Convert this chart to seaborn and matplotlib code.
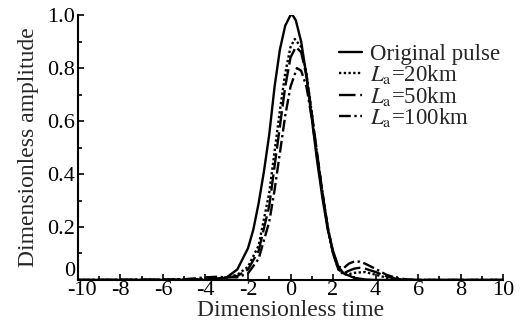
import matplotlib
matplotlib.use("Agg")
import matplotlib.pyplot as plt
import matplotlib.transforms as mtransforms
import seaborn as sns
import pandas as pd
from matplotlib.ticker import MultipleLocator

# ---- data ----
t_orig = [-10, -4, -3.5, -3, -2.5, -2, -1.75, -1.5, -1.25, -1, -0.75, -0.5, -0.25,
          0, 0.1, 0.25, 0.5, 0.75, 1, 1.25, 1.5, 1.75, 2, 2.25, 2.5, 3, 3.5, 4, 10]
a_orig = [0, 0, 0.002, 0.01, 0.04, 0.12, 0.19, 0.29, 0.41, 0.55, 0.73, 0.87, 0.96,
          1.0, 1.0, 0.98, 0.9, 0.77, 0.61, 0.45, 0.31, 0.19, 0.11, 0.05, 0.025, 0.008, 0.002, 0, 0]

t_20 = [-10, -4, -3.5, -3, -2.5, -2, -1.5, -1, -0.5, -0.25, 0, 0.2, 0.5, 0.75, 1,
        1.25, 1.5, 1.75, 2, 2.25, 2.5, 2.75, 3, 3.5, 4, 4.5, 5, 5.5, 10]
a_20 = [0, 0.002, 0.005, 0.01, 0.02, 0.05, 0.13, 0.33, 0.64, 0.78, 0.88, 0.91, 0.88, 0.78, 0.63,
        0.47, 0.33, 0.2, 0.1, 0.04, 0.02, 0.022, 0.027, 0.03, 0.02, 0.009, 0.003, 0, 0]

t_50 = [-10, -4, -3.5, -3, -2.5, -2, -1.5, -1, -0.5, -0.25, 0, 0.25, 0.5, 0.75, 1,
        1.25, 1.5, 1.75, 2, 2.25, 2.5, 2.75, 3, 3.25, 3.5, 4, 4.5, 5, 5.5, 10]
a_50 = [0, 0.002, 0.005, 0.01, 0.015, 0.04, 0.11, 0.28, 0.58, 0.73, 0.84, 0.88, 0.86, 0.77, 0.63,
        0.48, 0.33, 0.2, 0.1, 0.04, 0.025, 0.035, 0.043, 0.046, 0.043, 0.03, 0.014, 0.004, 0, 0]

t_100 = [-10, -6, -5, -4.5, -4, -3.5, -3, -2.5, -2, -1.5, -1, -0.75, -0.5, -0.25, 0, 0.3, 0.5,
         0.75, 1, 1.25, 1.5, 1.75, 2, 2.25, 2.5, 2.75, 3, 3.25, 3.5, 4, 4.5, 5, 5.5, 6, 10]
a_100 = [0, 0.001, 0.003, 0.006, 0.01, 0.012, 0.01, 0.01, 0.025, 0.08, 0.22, 0.34, 0.48, 0.62, 0.73, 0.80, 0.79,
         0.73, 0.61, 0.47, 0.33, 0.2, 0.1, 0.05, 0.045, 0.062, 0.07, 0.069, 0.062, 0.042, 0.02, 0.007, 0.002, 0, 0]

labels = ["Original pulse", r"$L_\mathrm{a}$=20km", r"$L_\mathrm{a}$=50km", r"$L_\mathrm{a}$=100km"]
x_ticks = [-10, -8, -6, -4, -2, 0, 2, 4, 6, 8, 10]
y_ticks = [0, 0.2, 0.4, 0.6, 0.8, 1.0]
y_ticklabels = ["0", "0.2", "0.4", "0.6", "0.8", "1.0"]

sns.set_style("ticks")
plt.rcParams["font.family"] = ["Liberation Serif", "DejaVu Serif"]
plt.rcParams["mathtext.fontset"] = "stix"

fig = plt.figure(figsize=(5.23, 3.29), dpi=100)
ax = fig.add_axes([0.149, 0.149, 0.813, 0.805])

series = [(t_orig, a_orig, "-"), (t_20, a_20, (0, (1, 1))),
          (t_50, a_50, (0, (7, 2))), (t_100, a_100, (0, (5, 1.5, 1, 1.5)))]
for (tt, aa, ls), lab in zip(series, labels):
    df = pd.DataFrame({"t": tt, "a": aa})
    sns.lineplot(data=df, x="t", y="a", ax=ax, color="black", linewidth=1.7,
                 linestyle=ls, label=lab)

ax.set_xlim(-10, 10)
ax.set_ylim(0, 1.0)
ax.set_xticks(x_ticks)
ax.set_xticklabels([str(v) for v in x_ticks])
ax.set_yticks(y_ticks)
ax.set_yticklabels(y_ticklabels)
ax.xaxis.set_minor_locator(MultipleLocator(1))
ax.yaxis.set_minor_locator(MultipleLocator(0.1))
ax.tick_params(which="both", direction="in", labelsize=16, width=1.2, colors="black")
ax.tick_params(which="major", length=4)
ax.tick_params(which="minor", length=3)
ax.tick_params(axis="x", pad=1)
ax.tick_params(axis="y", pad=2)
for s in ["top", "right"]:
    ax.spines[s].set_visible(False)
for s in ["left", "bottom"]:
    ax.spines[s].set_linewidth(1.5)
    ax.spines[s].set_color("black")

# nudge the "0" y-label up and "-10" x-label right so they don't collide
ylab0 = ax.get_yticklabels()[0]
ylab0.set_transform(ylab0.get_transform() + mtransforms.ScaledTranslation(0, 8 / 72, fig.dpi_scale_trans))
xlab0 = ax.get_xticklabels()[0]
xlab0.set_transform(xlab0.get_transform() + mtransforms.ScaledTranslation(3 / 72, 0, fig.dpi_scale_trans))

ax.set_xlabel("Dimensionless time", fontsize=17, labelpad=0)
ax.set_ylabel("Dimensionless amplitude", fontsize=17, labelpad=6)

leg = ax.legend(loc="upper left", bbox_to_anchor=(0.592, 0.925), frameon=False,
                fontsize=16.5, handlelength=1.0, handletextpad=0.35,
                labelspacing=-0.08, borderaxespad=0)

fig.savefig("out.png", dpi=100)
